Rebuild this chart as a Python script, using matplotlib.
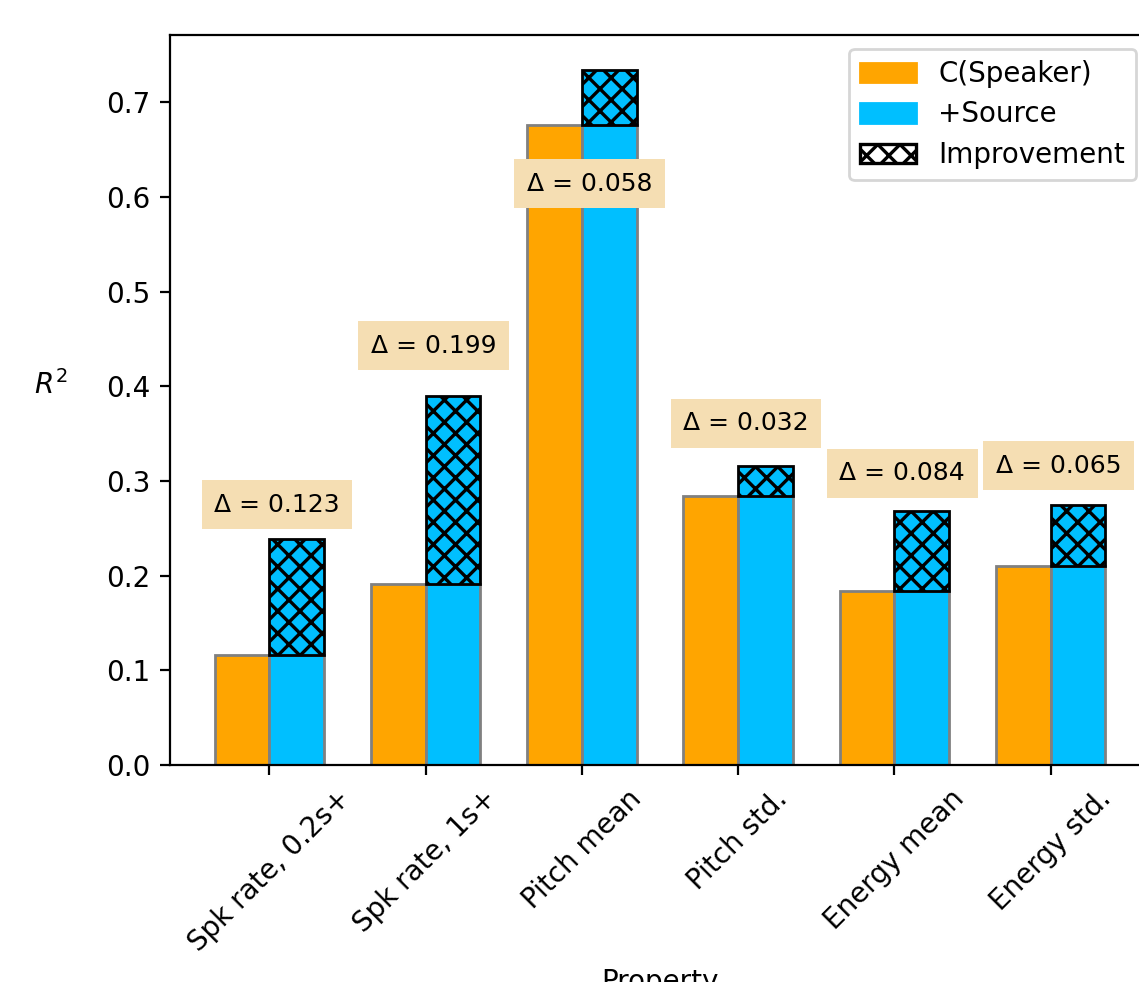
import matplotlib
matplotlib.use("Agg")
import matplotlib.pyplot as plt
import matplotlib.patches as mpatches
import numpy as np

plt.rcParams["hatch.linewidth"] = 1.2

categories = ["Spk rate, 0.2s+", "Spk rate, 1s+", "Pitch mean", "Pitch std.", "Energy mean", "Energy std."]
speaker_r2 = [0.116, 0.191, 0.676, 0.284, 0.184, 0.210]
improvement = [0.123, 0.199, 0.058, 0.032, 0.084, 0.065]
label_y = [0.275, 0.443, 0.614, 0.361, 0.308, 0.316]

fig = plt.figure(figsize=(1139 / 200, 982 / 200), dpi=200)
ax = fig.add_axes([170 / 1139, 1 - 765 / 982, (1150 - 170) / 1139, (765 - 35) / 982])

x = np.arange(len(categories))
w = 0.35
ax.bar(x - w / 2, speaker_r2, w, color="orange", edgecolor="gray", label="C(Speaker)")
ax.bar(x + w / 2, speaker_r2, w, color="deepskyblue", edgecolor="gray", label="+Source")
ax.bar(x + w / 2, improvement, w, bottom=speaker_r2, color="deepskyblue",
       edgecolor="black", hatch="xxx")

for i, (d, yl) in enumerate(zip(improvement, label_y)):
    ax.text(x[i] + 0.05, yl, f"Δ = {d:.3f}", ha="center", va="center", fontsize=9,
            bbox=dict(boxstyle="square,pad=0.5", facecolor="wheat", edgecolor="none"))

handles = [mpatches.Patch(color="orange", label="C(Speaker)"),
           mpatches.Patch(color="deepskyblue", label="+Source"),
           mpatches.Patch(facecolor="white", edgecolor="black", hatch="xxx",
                          linewidth=1.2, label="Improvement")]
ax.legend(handles=handles, loc="upper right", labelspacing=0.45)

ax.set_xticks(x)
ax.set_xticklabels(categories, rotation=45, ha="center")
ax.set_ylabel("$R^2$", rotation=0, labelpad=20)
ax.set_xlabel("Property")
ax.set_ylim(0, 0.771)
ax.set_xlim(-0.635, 5.635)

fig.savefig("out.png", dpi=200)
